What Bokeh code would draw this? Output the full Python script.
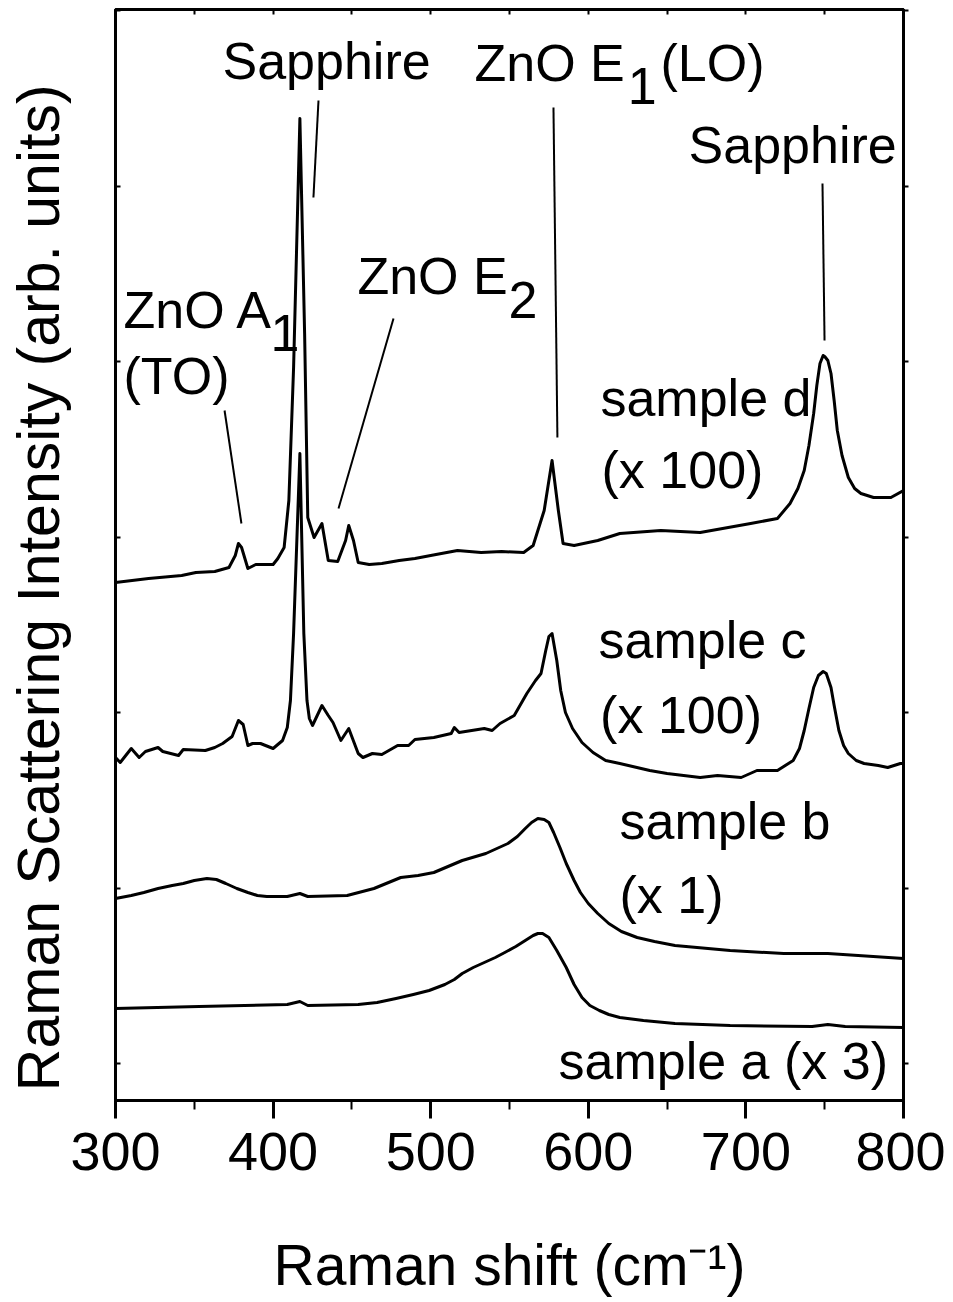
from bokeh.plotting import figure
from bokeh.models import Range1d, LinearAxis, FixedTicker, Label, ColumnDataSource
from bokeh.embed import file_html
from bokeh.resources import INLINE

FONT = "Liberation Sans"

# ---------------- data (Raman shift in cm^-1, intensity in arb. units, offset per sample) -----
sample_a_x = [300, 353, 409, 417, 422, 454, 466, 478, 489, 499, 509, 515, 520, 527, 534, 541,
              547, 554, 560, 565, 568, 571, 575, 580, 586, 591, 596, 601, 607, 613, 620, 635,
              655, 690, 742, 752, 763, 800]
sample_a_y = [92, 94, 96, 99, 95, 96, 98, 102, 106, 110, 116, 121, 127, 133, 138, 143,
              148, 154, 160, 165, 167, 167, 163, 150, 133, 116, 103, 95, 90, 86, 83, 80,
              77, 75, 74, 76, 74, 73]

sample_b_x = [300, 310, 318, 327, 336, 343, 350, 358, 364, 370, 377, 384, 390, 396, 409, 417,
              422, 447, 464, 481, 492, 502, 520, 535, 549, 555, 560, 564, 568, 572, 575, 578,
              582, 586, 591, 595, 600, 606, 613, 621, 631, 642, 655, 690, 724, 752, 800]
sample_b_y = [202, 205, 208, 212, 215, 217, 220, 222, 221, 217, 212, 208, 205, 204, 204, 207,
              204, 205, 212, 223, 225, 228, 240, 247, 257, 264, 272, 278, 282, 281, 278, 268,
              253, 237, 220, 208, 197, 187, 177, 169, 163, 159, 155, 150, 147, 147, 142]

sample_c_x = [300, 303, 310, 315, 319, 327, 330, 340, 343, 357, 363, 368, 374, 378, 381, 384,
              387, 392, 400, 406, 409, 411, 413, 417, 419.5, 421.5, 423, 425, 431, 435, 438,
              443, 448, 454, 457, 463, 469, 479, 486, 490, 502, 513, 515, 518, 534, 539, 544,
              553, 561, 566.5, 570, 573, 575, 577, 580, 582.5, 585.5, 590, 596, 603, 611, 620,
              639, 650, 671, 682, 697, 707, 720, 730, 734, 737, 740, 743, 746, 749, 751, 754,
              756, 759, 762, 765, 770, 775, 784, 790, 798, 800]
sample_c_y = [343, 338, 352, 343, 349, 353, 349, 345, 351, 350, 353, 357, 364, 380, 376, 355,
              357, 357, 352, 360, 373, 400, 467, 647, 467, 400, 382, 375, 395, 385, 378,
              360, 372, 347, 343, 347, 346, 355, 355, 361, 363, 367, 373, 368, 372, 370, 377,
              385, 407, 420, 427, 450, 464, 467, 440, 410, 388, 372, 358, 348, 340, 337,
              330, 327, 323, 325, 323, 330, 330, 340, 352, 370, 392, 413, 425, 429, 427, 413,
              395, 370, 355, 347, 340, 337, 335, 333, 337, 337]

sample_d_x = [300, 321, 342, 351, 363, 372, 376, 378, 380, 384, 389, 400, 403, 407, 410, 413,
              417, 420, 422, 426, 431, 435, 441, 446, 448, 451, 454, 461, 469, 480, 490, 500,
              517, 532, 545, 559, 565, 572, 577, 581, 584, 591, 606, 620, 646, 671, 703, 720,
              728, 733, 737, 740, 743, 745, 747, 749, 750, 752, 754, 756, 758, 761, 765, 769,
              773, 781, 792, 800]
sample_d_y = [518, 522, 525, 528, 529, 533, 545, 557, 553, 532, 536, 536, 542, 553, 600, 733,
              982, 767, 583, 563, 577, 540, 539, 560, 575, 560, 538, 536, 537, 540, 542, 545,
              550, 548, 549, 548, 555, 590, 640, 590, 557, 555, 560, 567, 570, 568, 577, 582,
              597, 612, 630, 655, 687, 715, 737, 745, 744, 740, 727, 700, 670, 645, 623, 612,
              607, 603, 603, 610]

x_major_ticks = [300, 400, 500, 600, 700, 800]
x_minor_ticks = [350, 450, 550, 650, 750]
x_top_ticks = [300, 350, 400, 450, 500, 550, 600, 650, 700, 750, 800]
y_ticks = [37, 212.5, 388, 563.5, 739, 914.5, 1090]

# leader lines (annotation pointers): x0, y0, x1, y1
leader_x0 = [428.8, 577.9, 748.6, 476.4, 369.2]
leader_y0 = [1000, 993, 917, 782, 690]
leader_x1 = [425.6, 580.4, 749.9, 441.5, 379.9]
leader_y1 = [903, 663, 760, 592, 577]

# ---------------- figure -----------------------------------------------------------------
p = figure(width=945, height=1300, output_backend="svg", toolbar_location=None,
           x_range=Range1d(300, 800), y_range=Range1d(0, 1091),
           x_axis_location=None, y_axis_location=None,
           min_border_left=115, min_border_right=42, min_border_top=9, min_border_bottom=200)
p.background_fill_color = "white"
p.border_fill_color = "white"
p.outline_line_color = "black"
p.outline_line_width = 3
for g in p.grid:
    g.visible = False


def styled_axis(ticker, hide_labels=True, **kw):
    ax = LinearAxis(ticker=ticker)
    ax.axis_line_width = 3
    ax.axis_line_color = "black"
    ax.major_tick_line_width = 2
    ax.minor_tick_line_width = 2
    ax.major_tick_line_color = "black"
    ax.minor_tick_line_color = "black"
    if hide_labels:
        ax.major_label_text_color = None
        ax.major_label_text_font_size = "1px"
        ax.major_label_standoff = 0
    for k, v in kw.items():
        setattr(ax, k, v)
    return ax


xb = styled_axis(FixedTicker(ticks=x_major_ticks, minor_ticks=x_minor_ticks), hide_labels=False,
                 major_tick_out=18, major_tick_in=0, minor_tick_out=9, minor_tick_in=0,
                 major_label_text_font=FONT, major_label_text_font_size="54px",
                 major_label_text_color="black", major_label_standoff=14,
                 axis_label="Raman shift (cm\u207b\u00b9)", axis_label_text_font=FONT,
                 axis_label_text_font_size="57px", axis_label_text_font_style="normal",
                 axis_label_text_color="black", axis_label_standoff=60)
xb.major_tick_line_width = 3
p.add_layout(xb, "below")

xt = styled_axis(FixedTicker(ticks=x_top_ticks, minor_ticks=[]),
                 major_tick_out=0, major_tick_in=5, minor_tick_out=0, minor_tick_in=0)
p.add_layout(xt, "above")

yl = styled_axis(FixedTicker(ticks=y_ticks, minor_ticks=[]),
                 major_tick_out=0, major_tick_in=5, minor_tick_out=0, minor_tick_in=0,
                 axis_label="Raman Scattering Intensity (arb. units)" + "\u00a0" * 4,
                 axis_label_text_font=FONT, axis_label_text_font_size="59px",
                 axis_label_text_font_style="normal", axis_label_text_color="black",
                 axis_label_standoff=44)
p.add_layout(yl, "left")

yr = styled_axis(FixedTicker(ticks=y_ticks, minor_ticks=[]),
                 major_tick_out=5, major_tick_in=0, minor_tick_out=0, minor_tick_in=0)
p.add_layout(yr, "right")

# spectra
for xs, ys in [(sample_a_x, sample_a_y), (sample_b_x, sample_b_y),
               (sample_c_x, sample_c_y), (sample_d_x, sample_d_y)]:
    p.line(xs, ys, line_color="black", line_width=3, line_join="round")

# leader lines
src = ColumnDataSource(dict(x0=leader_x0, y0=leader_y0, x1=leader_x1, y1=leader_y1))
p.segment(x0="x0", y0="y0", x1="x1", y1="y1", source=src, line_color="black", line_width=2)


def lab(x, y, text, size="52px"):
    p.add_layout(Label(x=x, y=y, text=text, text_font=FONT, text_font_size=size,
                       text_color="black", text_align="left", text_baseline="alphabetic"))


# annotations
lab(367.9, 1040, "Sapphire")
lab(527.8, 1038, "ZnO E")
lab(625.0, 1015, "1")
lab(645.8, 1038, "(LO)")
lab(663.6, 956, "Sapphire")
lab(453.5, 825, "ZnO E")
lab(549.4, 801, "2")
lab(305.1, 791, "ZnO A")
lab(398.3, 768, "1")
lab(305.1, 725, "(TO)")
lab(607.7, 703, "sample d")
lab(608.4, 631, "(x 100)")
lab(606.5, 461, "sample c")
lab(607.5, 386, "(x 100)")
lab(619.8, 280, "sample b")
lab(619.8, 206, "(x 1)")
lab(581.1, 40, "sample a (x 3)")

open("out.html", "w").write(file_html(p, INLINE))
